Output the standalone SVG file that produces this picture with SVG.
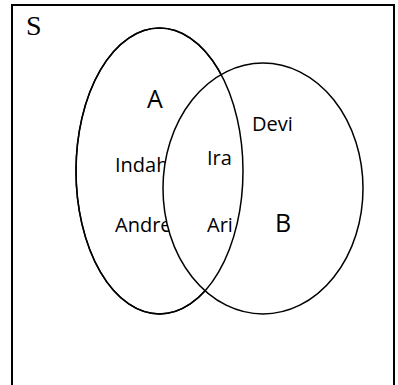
<svg xmlns="http://www.w3.org/2000/svg" width="398" height="385" viewBox="0 0 398 385">
<style>
.ell{stroke:#000;stroke-width:1.5}
.t{font-family:"Open Sans","Liberation Sans",sans-serif;font-size:20px;fill:#000}
.big{font-size:25px}
</style>
<rect x="0" y="0" width="398" height="385" fill="#fff"/>
<g id="frame">
<rect x="12" y="5" width="382" height="400" fill="#fff" stroke="#000" stroke-width="2"/>
<text x="26" y="35" font-family="Liberation Serif, serif" font-size="28">S</text>
</g>
<g id="setA">
<ellipse class="ell" cx="159.5" cy="171" rx="83.5" ry="143" fill="#fff"/>
<text class="t big" x="147" y="108">A</text>
<text class="t" x="115" y="172">Indah</text>
<text class="t" x="115" y="232">Andre</text>
</g>
<g id="setB">
<ellipse class="ell" cx="263" cy="188.5" rx="100" ry="125.5" fill="#fff"/>
<text class="t" x="252" y="131">Devi</text>
<text class="t big" x="275" y="232">B</text>
</g>
<g id="outlineA">
<ellipse class="ell" cx="159.5" cy="171" rx="83.5" ry="143" fill="none"/>
</g>
<g id="intersection">
<text class="t" x="207" y="165">Ira</text>
<text class="t" x="207" y="232">Ari</text>
</g>
</svg>
